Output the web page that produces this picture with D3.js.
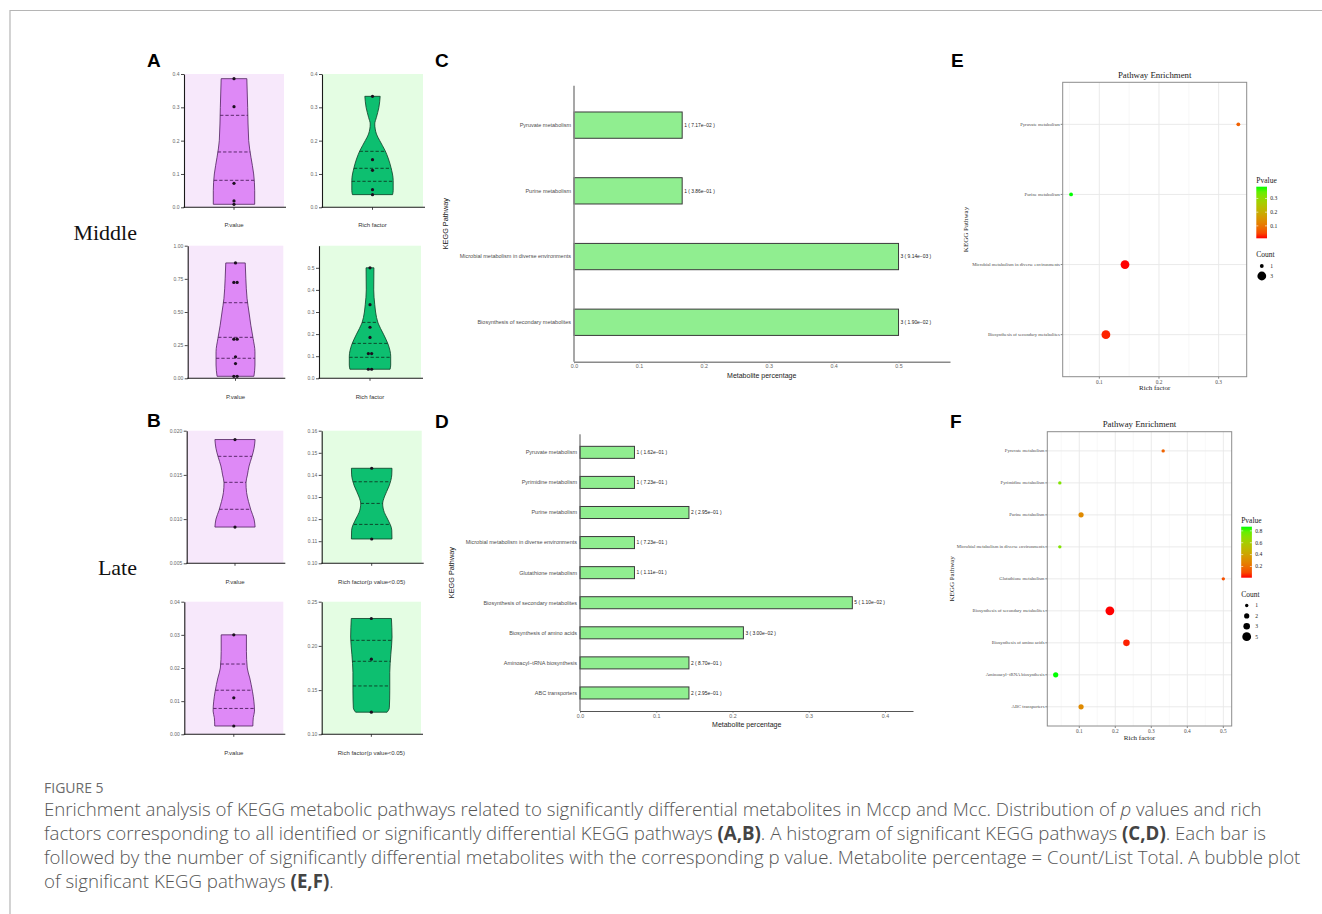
<!DOCTYPE html>
<html>
<head>
<meta charset="utf-8">
<script src="https://cdn.jsdelivr.net/npm/d3@7"></script>
<style>
  html, body { margin: 0; padding: 0; background: #fff; }
  svg { display: block; }
</style>
</head>
<body>
<svg id="fig" width="1322" height="914"></svg>
<script>
// ---------------- Violin data (A: all pathways, B: p < 0.05) ----------------
// points, quartile lines, and outline profile as [value, relative half-width]
const midAllP        = [0.386, 0.302, 0.072, 0.019, 0.009];
const midAllPQuart   = [0.276, 0.166, 0.081];
const midAllPShape   = [[0.386,0.62],[0.3,0.66],[0.2,0.71],[0.15,0.82],[0.1,0.95],[0.05,1.0],[0.009,1.0]];
const midAllRich      = [0.333, 0.143, 0.111, 0.053, 0.038];
const midAllRichQuart = [0.168, 0.117, 0.078];
const midAllRichShape = [[0.333,0.37],[0.3,0.31],[0.27,0.19],[0.25,0.11],[0.22,0.19],[0.2,0.35],[0.17,0.61],[0.12,0.89],[0.08,1.0],[0.05,1.0],[0.038,0.97]];

const lateAllP        = [0.87, 0.723, 0.723, 0.295, 0.295, 0.162, 0.111, 0.015, 0.015];
const lateAllPQuart   = [0.570, 0.309, 0.151];
const lateAllPShape   = [[0.87,0.47],[0.75,0.5],[0.6,0.56],[0.5,0.65],[0.4,0.74],[0.3,0.85],[0.2,0.94],[0.1,0.94],[0.015,0.89]];
const lateAllRich      = [0.5, 0.333, 0.231, 0.185, 0.112, 0.112, 0.041, 0.041];
const lateAllRichQuart = [0.253, 0.158, 0.095];
const lateAllRichShape = [[0.5,0.19],[0.4,0.18],[0.333,0.23],[0.3,0.27],[0.25,0.39],[0.2,0.65],[0.15,0.89],[0.1,1.0],[0.06,1.0],[0.041,0.97]];

const midSigP         = [0.019, 0.0091];
const midSigPQuart    = [0.0171, 0.01416, 0.01111];
const midSigPShape    = [[0.019,0.97],[0.018,0.92],[0.017,0.81],[0.016,0.68],[0.015,0.6],[0.0141,0.53],[0.013,0.56],[0.012,0.65],[0.011,0.77],[0.010,0.92],[0.0091,0.97]];
const midSigRich      = [0.143, 0.111];
const midSigRichQuart = [0.1369, 0.1271, 0.1176];
const midSigRichShape = [[0.143,0.98],[0.14,0.97],[0.135,0.84],[0.13,0.61],[0.127,0.53],[0.123,0.61],[0.12,0.77],[0.115,0.97],[0.111,0.98]];

const lateSigP         = [0.030, 0.011, 0.0025];
const lateSigPQuart    = [0.0212, 0.0133, 0.0078];
const lateSigPShape    = [[0.030,0.61],[0.025,0.61],[0.02,0.65],[0.017,0.77],[0.013,0.9],[0.01,0.97],[0.007,1.0],[0.005,0.94],[0.0025,0.92]];
const lateSigRich      = [0.231, 0.185, 0.125];
const lateSigRichQuart = [0.2063, 0.1826, 0.1547];
const lateSigRichShape = [[0.231,0.97],[0.21,1.0],[0.19,0.94],[0.17,0.89],[0.15,0.89],[0.13,0.87],[0.125,0.76]];

// axis ticks of each violin panel
const ticksMidAllP    = [0, 0.1, 0.2, 0.3, 0.4];
const ticksMidAllRich = [0, 0.1, 0.2, 0.3, 0.4];
const ticksLateAllP   = [0, 0.25, 0.5, 0.75, 1.0];
const ticksLateAllRich= [0, 0.1, 0.2, 0.3, 0.4, 0.5];
const ticksMidSigP    = [0.005, 0.010, 0.015, 0.020];
const ticksMidSigRich = [0.10, 0.11, 0.12, 0.13, 0.14, 0.15, 0.16];
const ticksLateSigP   = [0, 0.01, 0.02, 0.03, 0.04];
const ticksLateSigRich= [0.10, 0.15, 0.20, 0.25];

// ---------------- KEGG pathway data ----------------
const middlePathways = ["Pyruvate metabolism", "Purine metabolism",
  "Microbial metabolism in diverse environments", "Biosynthesis of secondary metabolites"];
const middleCount = [1, 1, 3, 3];
const middleP     = [0.0717, 0.386, 0.00914, 0.019];
const middleRich  = [0.333, 0.0526, 0.143, 0.111];
const middleListTotal = 6;

const latePathways = ["Pyruvate metabolism", "Pyrimidine metabolism", "Purine metabolism",
  "Microbial metabolism in diverse environments", "Glutathione metabolism",
  "Biosynthesis of secondary metabolites", "Biosynthesis of amino acids",
  "Aminoacyl\u2212tRNA biosynthesis", "ABC transporters"];
const lateCount = [1, 1, 2, 1, 1, 5, 3, 2, 2];
const lateP     = [0.162, 0.723, 0.295, 0.723, 0.111, 0.011, 0.030, 0.870, 0.295];
const lateRich  = [0.333, 0.046, 0.105, 0.046, 0.5, 0.185, 0.231, 0.0345, 0.105];
const lateListTotal = 14;

const barTicksMiddle = [0, 0.1, 0.2, 0.3, 0.4, 0.5];
const barTicksLate   = [0, 0.1, 0.2, 0.3, 0.4];
const bubbleTicksMiddle = [0.1, 0.2, 0.3];
const bubbleTicksLate   = [0.1, 0.2, 0.3, 0.4, 0.5];
const pLegendTicksMiddle = [0.1, 0.2, 0.3];
const pLegendTicksLate   = [0.2, 0.4, 0.6, 0.8];
const countLegendMiddle = [1, 3];
const countLegendLate   = [1, 2, 3, 5];

// ---------------- drawing ----------------
const svg = d3.select("#fig");
const SANS = "'Liberation Sans', Arial, sans-serif";
const SERIF = "'Liberation Serif', 'Times New Roman', serif";

// figure frame
svg.append("line").attr("x1", 10).attr("x2", 1322).attr("y1", 10.5).attr("y2", 10.5)
  .attr("stroke", "#b5b5b5").attr("stroke-width", 1.2);
svg.append("line").attr("x1", 10).attr("x2", 10).attr("y1", 10).attr("y2", 914)
  .attr("stroke", "#b5b5b5").attr("stroke-width", 1.2);

// panel letters
[["A",147,67],["B",147,427],["C",435,67],["D",435,428],["E",951,67],["F",950,428]].forEach(([t,x,y]) => {
  svg.append("text").attr("x", x).attr("y", y).text(t)
    .attr("font-family", SANS).attr("font-weight", "bold").attr("font-size", 19).attr("fill", "#000");
});

// group labels
svg.append("text").attr("x", 137).attr("y", 240).attr("text-anchor", "end").text("Middle")
  .attr("font-family", SERIF).attr("font-size", 22).attr("fill", "#111");
svg.append("text").attr("x", 137).attr("y", 575).attr("text-anchor", "end").text("Late")
  .attr("font-family", SERIF).attr("font-size", 22).attr("fill", "#111");

const VIOLIN_HW = 20.7;
const PURPLE = {bg: "#f7e8fb", fill: "#de89f6", stroke: "#4d1f5c"};
const GREEN  = {bg: "#e4fde3", fill: "#0dbf70", stroke: "#0d3b25"};

const violinPanels = [
  {left:184, right:284, top:74, bottom:207.3, domain:[0,0.4], ticks:ticksMidAllP, fmt:".1f", pal:PURPLE,
   pts:midAllP, quart:midAllPQuart, shape:midAllPShape, label:"P.value", labelY:227},
  {left:322, right:423, top:74, bottom:207.3, domain:[0,0.4], ticks:ticksMidAllRich, fmt:".1f", pal:GREEN,
   pts:midAllRich, quart:midAllRichQuart, shape:midAllRichShape, label:"Rich factor", labelY:227},
  {left:187.7, right:283.3, top:245.7, bottom:378.3, domain:[0,1], ticks:ticksLateAllP, fmt:".2f", pal:PURPLE,
   pts:lateAllP, quart:lateAllPQuart, shape:lateAllPShape, label:"P.value", labelY:398.5},
  {left:319, right:421, top:245.7, bottom:378.3, domain:[0,0.6], ticks:ticksLateAllRich, fmt:".1f", pal:GREEN,
   pts:lateAllRich, quart:lateAllRichQuart, shape:lateAllRichShape, label:"Rich factor", labelY:398.5},
  {left:186.7, right:283.3, top:430.7, bottom:563.3, domain:[0.005,0.02], ticks:ticksMidSigP, fmt:".3f", pal:PURPLE,
   pts:midSigP, quart:midSigPQuart, shape:midSigPShape, label:"P.value", labelY:583.5},
  {left:321.7, right:421.7, top:430.7, bottom:563.3, domain:[0.10,0.16], ticks:ticksMidSigRich, fmt:".2f", pal:GREEN,
   pts:midSigRich, quart:midSigRichQuart, shape:midSigRichShape, label:"Rich factor(p value<0.05)", labelY:583.5},
  {left:184.3, right:283.3, top:601.7, bottom:734.3, domain:[0,0.04], ticks:ticksLateSigP, fmt:".2f", pal:PURPLE,
   pts:lateSigP, quart:lateSigPQuart, shape:lateSigPShape, label:"P.value", labelY:755},
  {left:321.7, right:421, top:601.7, bottom:734.3, domain:[0.10,0.25], ticks:ticksLateSigRich, fmt:".2f", pal:GREEN,
   pts:lateSigRich, quart:lateSigRichQuart, shape:lateSigRichShape, label:"Rich factor(p value<0.05)", labelY:755},
];

function halfWidthAt(shape, v) {
  const s = shape.slice().sort((a, b) => a[0] - b[0]);
  if (v <= s[0][0]) return s[0][1];
  for (let i = 1; i < s.length; i++) {
    if (v <= s[i][0]) {
      const t = (v - s[i-1][0]) / (s[i][0] - s[i-1][0]);
      return s[i-1][1] + t * (s[i][1] - s[i-1][1]);
    }
  }
  return s[s.length-1][1];
}

function drawViolin(p) {
  const g = svg.append("g");
  const y = d3.scaleLinear().domain(p.domain).range([p.bottom, p.top]);
  const w = d3.scaleLinear().domain([0, 1]).range([0, VIOLIN_HW]);
  const cx = (p.left + p.right) / 2;

  g.append("rect").attr("x", p.left).attr("y", p.top)
    .attr("width", p.right - p.left).attr("height", p.bottom - p.top).attr("fill", p.pal.bg);

  const shape = p.shape.slice().sort((a, b) => b[0] - a[0]);
  const area = d3.area()
    .y(d => y(d[0])).x0(d => cx - w(d[1])).x1(d => cx + w(d[1]))
    .curve(d3.curveMonotoneY);
  g.append("path").attr("d", area(shape))
    .attr("fill", p.pal.fill).attr("stroke", p.pal.stroke).attr("stroke-width", 0.8);

  p.quart.forEach(q => {
    const hw = w(halfWidthAt(p.shape, q));
    g.append("line").attr("x1", cx - hw).attr("x2", cx + hw).attr("y1", y(q)).attr("y2", y(q))
      .attr("stroke", p.pal.stroke).attr("stroke-width", 0.9).attr("stroke-dasharray", "3.3,2");
  });

  // dots, spread sideways where they overlap
  const sorted = p.pts.map(v => ({v, py: y(v)})).sort((a, b) => a.py - b.py);
  const groups = [];
  sorted.forEach(d => {
    const last = groups[groups.length - 1];
    if (last && Math.abs(last[last.length - 1].py - d.py) < 2.5) last.push(d); else groups.push([d]);
  });
  groups.forEach(gr => gr.forEach((d, i) => {
    g.append("circle").attr("cx", cx + (i - (gr.length - 1) / 2) * 3.3).attr("cy", d.py)
      .attr("r", 1.6).attr("fill", "#1b0f1f");
  }));

  // axes
  const ax = g.append("g").attr("transform", `translate(${p.left},0)`)
    .call(d3.axisLeft(y).tickValues(p.ticks).tickFormat(d3.format(p.fmt)).tickSize(3).tickSizeOuter(0));
  ax.select(".domain").attr("stroke", "#1a1a1a").attr("stroke-width", 1.1);
  ax.selectAll(".tick line").attr("stroke", "#1a1a1a").attr("stroke-width", 0.8);
  ax.selectAll(".tick text").attr("font-family", SANS).attr("font-size", 5).attr("fill", "#666").attr("x", -4.5);

  g.append("line").attr("x1", p.left - 0.5).attr("x2", p.right + 2).attr("y1", p.bottom).attr("y2", p.bottom)
    .attr("stroke", "#1a1a1a").attr("stroke-width", 1.1);
  g.append("line").attr("x1", cx).attr("x2", cx).attr("y1", p.bottom).attr("y2", p.bottom + 2.5)
    .attr("stroke", "#1a1a1a").attr("stroke-width", 0.8);
  g.append("text").attr("x", cx).attr("y", p.labelY).attr("text-anchor", "middle").text(p.label)
    .attr("font-family", SANS).attr("font-size", 6).attr("fill", "#333");
}
violinPanels.forEach(drawViolin);

// ---------------- bar charts (C, D) ----------------
function fmtP(v) {
  const [m, e] = v.toExponential(2).split("e");
  const n = Math.abs(+e);
  return m + "e" + (+e < 0 ? "\u2212" : "+") + String(n).padStart(2, "0");
}

function drawBars(c) {
  const g = svg.append("g");
  const pct = c.count.map(k => k / c.total);
  const x = d3.scaleLinear().domain([0, c.xmax]).range([c.left, c.right]);
  const y = d3.scaleBand().domain(c.cats).range([c.top, c.bottom]).paddingInner(0.6).paddingOuter(0.4);

  c.cats.forEach((cat, i) => {
    g.append("rect").attr("x", x(0)).attr("y", y(cat))
      .attr("width", x(pct[i]) - x(0)).attr("height", y.bandwidth())
      .attr("fill", "#90ee90").attr("stroke", "#3a3a3a").attr("stroke-width", 1);
    g.append("text").attr("x", x(pct[i]) + 2).attr("y", y(cat) + y.bandwidth() / 2).attr("dy", "0.35em")
      .text(`${c.count[i]} ( ${fmtP(c.p[i])} )`)
      .attr("font-family", SANS).attr("font-size", 4.9).attr("fill", "#222");
    g.append("text").attr("x", c.left - 3).attr("y", y(cat) + y.bandwidth() / 2).attr("dy", "0.35em")
      .attr("text-anchor", "end").text(cat)
      .attr("font-family", SANS).attr("font-size", 5.5).attr("fill", "#4d4d4d");
  });

  const xa = g.append("g").attr("transform", `translate(0,${c.bottom})`)
    .call(d3.axisBottom(x).tickValues(c.ticks).tickFormat(d3.format(".1f")).tickSize(1.5).tickSizeOuter(0));
  xa.select(".domain").attr("stroke", c.axisColor).attr("stroke-width", c.axisWidth);
  xa.selectAll(".tick line").attr("stroke", c.axisColor);
  xa.selectAll(".tick text").attr("font-family", SANS).attr("font-size", 5.3).attr("fill", "#666").attr("y", 3);
  g.append("line").attr("x1", c.left).attr("x2", c.left).attr("y1", c.top).attr("y2", c.bottom)
    .attr("stroke", c.axisColor).attr("stroke-width", c.axisWidth);

  g.append("text").attr("x", c.titleX).attr("y", c.titleY).attr("text-anchor", "middle")
    .text("Metabolite percentage").attr("font-family", SANS).attr("font-size", 7).attr("fill", "#1a1a1a");
  g.append("text").attr("transform", `translate(${c.yTitleX},${(c.top + c.bottom) / 2}) rotate(-90)`)
    .attr("text-anchor", "middle").attr("dy", "0.35em").text("KEGG Pathway")
    .attr("font-family", SANS).attr("font-size", 7.3).attr("fill", "#1a1a1a");
}

drawBars({cats: middlePathways, count: middleCount, p: middleP, total: middleListTotal,
  left: 574, right: 950, top: 85.7, bottom: 361.7, xmax: 0.5793, ticks: barTicksMiddle,
  titleX: 761.7, titleY: 377.5, yTitleX: 445.5, axisColor: "#8a8a8a", axisWidth: 1.5});
drawBars({cats: latePathways, count: lateCount, p: lateP, total: lateListTotal,
  left: 580, right: 913, top: 434.3, bottom: 711, xmax: 0.4367, ticks: barTicksLate,
  titleX: 746.7, titleY: 727, yTitleX: 451.7, axisColor: "#555", axisWidth: 1});

// ---------------- bubble charts (E, F) ----------------
function drawBubble(c) {
  const g = svg.append("g");
  const ext = d3.extent(c.rich);
  const pad = (ext[1] - ext[0]) * 0.05;
  const x = d3.scaleLinear().domain([ext[0] - pad, ext[1] + pad]).range([c.left, c.right]);
  const y = d3.scalePoint().domain(c.cats).range([c.top, c.bottom]).padding(0.6);
  const pExt = d3.extent(c.p);
  const col = d3.scaleLinear().domain(pExt).range(["#ff0000", "#00ff00"]).interpolate(d3.interpolateLab);
  const cExt = d3.extent(c.count);
  const r = d3.scaleLinear().domain([Math.sqrt(cExt[0]), Math.sqrt(cExt[1])]).range(c.rRange);

  g.append("rect").attr("x", c.left).attr("y", c.top).attr("width", c.right - c.left)
    .attr("height", c.bottom - c.top).attr("fill", "#fff");
  // minor grid between major ticks
  const dom = x.domain();
  const minor = d3.range(0.05, dom[1], 0.1).filter(v => v > dom[0]);
  minor.forEach(v => g.append("line").attr("x1", x(v)).attr("x2", x(v)).attr("y1", c.top).attr("y2", c.bottom)
    .attr("stroke", "#f3f3f3").attr("stroke-width", 0.6));
  c.ticks.forEach(v => g.append("line").attr("x1", x(v)).attr("x2", x(v)).attr("y1", c.top).attr("y2", c.bottom)
    .attr("stroke", "#e8e8e8").attr("stroke-width", 0.9));
  c.cats.forEach(cat => g.append("line").attr("x1", c.left).attr("x2", c.right).attr("y1", y(cat)).attr("y2", y(cat))
    .attr("stroke", "#e8e8e8").attr("stroke-width", 0.9));

  c.cats.forEach((cat, i) => {
    g.append("circle").attr("cx", x(c.rich[i])).attr("cy", y(cat)).attr("r", r(Math.sqrt(c.count[i])))
      .attr("fill", col(c.p[i]));
    g.append("line").attr("x1", c.left - 2).attr("x2", c.left).attr("y1", y(cat)).attr("y2", y(cat))
      .attr("stroke", "#333").attr("stroke-width", 0.6);
    g.append("text").attr("x", c.left - 2.8).attr("y", y(cat)).attr("dy", "0.33em").attr("text-anchor", "end")
      .text(cat).attr("font-family", SERIF).attr("font-size", 4.7).attr("fill", "#4d4d4d");
  });
  c.ticks.forEach(v => {
    g.append("line").attr("x1", x(v)).attr("x2", x(v)).attr("y1", c.bottom).attr("y2", c.bottom + 2)
      .attr("stroke", "#333").attr("stroke-width", 0.6);
    g.append("text").attr("x", x(v)).attr("y", c.bottom + 7).attr("text-anchor", "middle")
      .text(d3.format(".1f")(v)).attr("font-family", SERIF).attr("font-size", 5.3).attr("fill", "#4d4d4d");
  });
  g.append("rect").attr("x", c.left).attr("y", c.top).attr("width", c.right - c.left)
    .attr("height", c.bottom - c.top).attr("fill", "none").attr("stroke", "#8c8c8c").attr("stroke-width", 1);

  const midX = (c.left + c.right) / 2;
  g.append("text").attr("x", midX).attr("y", c.top - 4.5).attr("text-anchor", "middle").text("Pathway Enrichment")
    .attr("font-family", SERIF).attr("font-size", 8.8).attr("fill", "#1a1a1a");
  g.append("text").attr("x", midX).attr("y", c.bottom + 13.5).attr("text-anchor", "middle").text("Rich factor")
    .attr("font-family", SERIF).attr("font-size", 7).attr("fill", "#1a1a1a");
  g.append("text").attr("transform", `translate(${c.yTitleX},${(c.top + c.bottom) / 2}) rotate(-90)`)
    .attr("text-anchor", "middle").attr("dy", "0.35em").text("KEGG Pathway")
    .attr("font-family", SERIF).attr("font-size", 7).attr("fill", "#1a1a1a");

  // colour bar legend
  const L = c.legend;
  const gid = "grad" + c.id;
  const grad = svg.append("defs").append("linearGradient").attr("id", gid)
    .attr("x1", 0).attr("x2", 0).attr("y1", 1).attr("y2", 0);
  d3.range(0, 1.0001, 0.1).forEach(t => grad.append("stop").attr("offset", t)
    .attr("stop-color", col(pExt[0] + t * (pExt[1] - pExt[0]))));
  g.append("text").attr("x", L.x).attr("y", L.barTop - 4).text("Pvalue")
    .attr("font-family", SERIF).attr("font-size", 7.5).attr("fill", "#1a1a1a");
  g.append("rect").attr("x", L.x).attr("y", L.barTop).attr("width", 10.7).attr("height", L.barH)
    .attr("fill", `url(#${gid})`);
  const cy = d3.scaleLinear().domain(pExt).range([L.barTop + L.barH, L.barTop]);
  L.pTicks.forEach(v => {
    g.append("line").attr("x1", L.x).attr("x2", L.x + 2).attr("y1", cy(v)).attr("y2", cy(v)).attr("stroke", "#fff").attr("stroke-width", 0.6);
    g.append("line").attr("x1", L.x + 8.7).attr("x2", L.x + 10.7).attr("y1", cy(v)).attr("y2", cy(v)).attr("stroke", "#fff").attr("stroke-width", 0.6);
    g.append("text").attr("x", L.x + 14).attr("y", cy(v)).attr("dy", "0.33em").text(d3.format(".1f")(v))
      .attr("font-family", SERIF).attr("font-size", 5.6).attr("fill", "#1a1a1a");
  });
  g.append("text").attr("x", L.x).attr("y", L.countTop).text("Count")
    .attr("font-family", SERIF).attr("font-size", 7.5).attr("fill", "#1a1a1a");
  L.counts.forEach((k, i) => {
    const yy = L.countTop + 9 + i * L.countStep;
    g.append("circle").attr("cx", L.x + 5.5).attr("cy", yy).attr("r", r(Math.sqrt(k))).attr("fill", "#000");
    g.append("text").attr("x", L.x + 14).attr("y", yy).attr("dy", "0.33em").text(k)
      .attr("font-family", SERIF).attr("font-size", 5.6).attr("fill", "#1a1a1a");
  });
}

drawBubble({id: "E", cats: middlePathways, rich: middleRich, count: middleCount, p: middleP,
  left: 1062.7, right: 1246.7, top: 82.3, bottom: 376.7, ticks: bubbleTicksMiddle, rRange: [1.9, 4.4],
  yTitleX: 966,
  legend: {x: 1256.3, barTop: 186.7, barH: 51.6, pTicks: pLegendTicksMiddle, countTop: 257, countStep: 10, counts: countLegendMiddle}});
drawBubble({id: "F", cats: latePathways, rich: lateRich, count: lateCount, p: lateP,
  left: 1047.3, right: 1231.7, top: 431.7, bottom: 726, ticks: bubbleTicksLate, rRange: [1.7, 4.4],
  yTitleX: 951.7,
  legend: {x: 1241.2, barTop: 526.7, barH: 51, pTicks: pLegendTicksLate, countTop: 596.5, countStep: 10.4, counts: countLegendLate}});

// ---------------- caption ----------------
const CAP = "'Open Sans', 'Noto Sans', sans-serif";
svg.append("text").attr("x", 44).attr("y", 793).text("FIGURE 5")
  .attr("font-family", CAP).attr("font-size", 14).attr("fill", "#6b6b6b");

const captionLines = [
  [["Enrichment analysis of KEGG metabolic pathways related to significantly differential metabolites in Mccp and Mcc. Distribution of ", ""], ["p", "i"], [" values and rich", ""]],
  [["factors corresponding to all identified or significantly differential KEGG pathways ", ""], ["(A,B)", "b"], [". A histogram of significant KEGG pathways ", ""], ["(C,D)", "b"], [". Each bar is", ""]],
  [["followed by the number of significantly differential metabolites with the corresponding p value. Metabolite percentage = Count/List Total. A bubble plot", ""]],
  [["of significant KEGG pathways ", ""], ["(E,F)", "b"], [".", ""]]
];
const capNodes = captionLines.map((segs, i) => {
  const t = svg.append("text").attr("x", 44).attr("y", 816 + i * 24)
    .attr("font-family", CAP).attr("font-weight", 300).attr("font-size", 17).attr("fill", "#555");
  segs.forEach(([s, st]) => {
    const ts = t.append("tspan").text(s);
    if (st === "b") ts.attr("font-weight", 700).attr("fill", "#444");
    if (st === "i") ts.attr("font-style", "italic");
  });
  return t;
});
const w1 = capNodes[0].node().getComputedTextLength();
const fs = 17 * 1218 / w1;
capNodes.forEach(t => t.attr("font-size", fs));
</script>
</body>
</html>
